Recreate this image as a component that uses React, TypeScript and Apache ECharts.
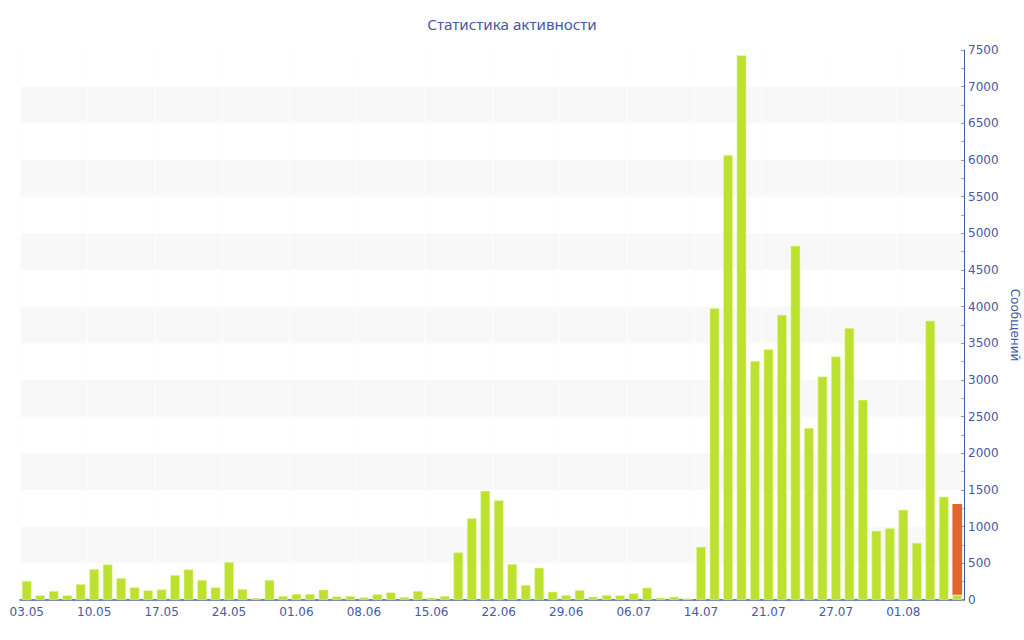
import React, { useEffect, useRef } from "react";
import * as echarts from "echarts";

const dates = [
  "03.05", "04.05", "05.05", "06.05", "07.05",
  "10.05", "11.05", "12.05", "13.05", "14.05",
  "17.05", "18.05", "19.05", "20.05", "21.05",
  "24.05", "25.05", "26.05", "27.05", "28.05",
  "01.06", "02.06", "03.06", "04.06", "07.06",
  "08.06", "09.06", "10.06", "11.06", "14.06",
  "15.06", "16.06", "17.06", "18.06", "21.06",
  "22.06", "23.06", "24.06", "25.06", "28.06",
  "29.06", "30.06", "01.07", "02.07", "05.07",
  "06.07", "07.07", "08.07", "09.07", "12.07",
  "14.07", "15.07", "16.07", "19.07", "20.07",
  "21.07", "22.07", "23.07", "24.07", "26.07",
  "27.07", "28.07", "29.07", "30.07", "31.07",
  "01.08", "02.08", "03.08", "04.08", "05.08",
];

const messages = [
  260, 64, 123, 64, 218, 423, 486, 300, 173, 132,
  145, 341, 418, 273, 173, 518, 150, 27, 273, 55,
  82, 82, 141, 50, 55, 37, 78, 105, 41, 123,
  32, 55, 650, 1115, 1490, 1360, 491, 205, 441, 114,
  68, 136, 45, 68, 64, 91, 168, 32, 45, 23,
  727, 3980, 6070, 7430, 3260, 3420, 3890, 4830, 2345, 3050,
  3320, 3710, 2730, 945, 980, 1230, 780, 3810, 1410, 70,
];

const todayExtra: (number | null)[] = dates.map((_, i) =>
  i === dates.length - 1 ? 1240 : null
);

const titleText = "Статистика активности";
const yAxisName = "Сообщений";

const FONT = "'DejaVu Sans', Verdana, sans-serif";
const TITLE_FONT = "'Noto Sans', 'DejaVu Sans', sans-serif";
const BLUE = "#4659a3";

export default function App() {
  const ref = useRef<HTMLDivElement>(null);
  useEffect(() => {
    if (!ref.current) return;
    const chart = echarts.init(ref.current, null, { renderer: "svg" });
    chart.setOption({
      animation: false,
      textStyle: { fontFamily: FONT },
      title: {
        text: titleText,
        left: "center",
        top: 11,
        textStyle: { fontFamily: TITLE_FONT, fontSize: 15.2, fontWeight: "normal", color: BLUE },
      },
      grid: { left: 20, right: 60, top: 50, bottom: 40, outerBoundsMode: "none", containLabel: false },
      xAxis: {
        type: "category",
        data: dates,
        boundaryGap: true,
        axisLine: { lineStyle: { color: BLUE, width: 1.5 } },
        axisTick: { alignWithLabel: true, interval: 4, length: 4, lineStyle: { color: "#999" } },
        axisLabel: { interval: 4, color: BLUE, fontSize: 12, fontFamily: FONT, margin: 6 },
        splitLine: { show: true, interval: 4, lineStyle: { color: "#fdfdfd", width: 1 } },
      },
      yAxis: {
        type: "value",
        position: "right",
        min: 0,
        max: 7500,
        interval: 500,
        name: yAxisName,
        nameLocation: "middle",
        nameRotate: -90,
        nameGap: 43,
        nameTextStyle: { color: BLUE, fontSize: 12, fontFamily: FONT },
        axisLine: { show: true, lineStyle: { color: BLUE, width: 1 } },
        axisTick: { show: true, inside: true, length: 3, lineStyle: { color: "#999" } },
        minorTick: { show: true, splitNumber: 2, length: 3, lineStyle: { color: "#aaa" } },
        axisLabel: {
          color: BLUE,
          fontSize: 12,
          fontFamily: FONT,
          margin: 4,
          formatter: (v: number) => String(v),
        },
        splitLine: { show: false },
        splitArea: { show: true, areaStyle: { color: ["#ffffff", "#f8f8f8"] } },
      },
      series: [
        {
          type: "bar",
          stack: "total",
          data: messages,
          barWidth: "72%",
          itemStyle: { color: "#bce12f", borderColor: "rgba(235,248,170,0.9)", borderWidth: 0.6 },
        },
        {
          type: "bar",
          stack: "total",
          data: todayExtra,
          barWidth: "72%",
          itemStyle: { color: "#e2642f" },
        },
      ],
    });
    return () => chart.dispose();
  }, []);
  return (
    <div
      ref={ref}
      style={{ position: "fixed", left: 0, top: 0, width: 1024, height: 640, background: "#fff" }}
    />
  );
}
